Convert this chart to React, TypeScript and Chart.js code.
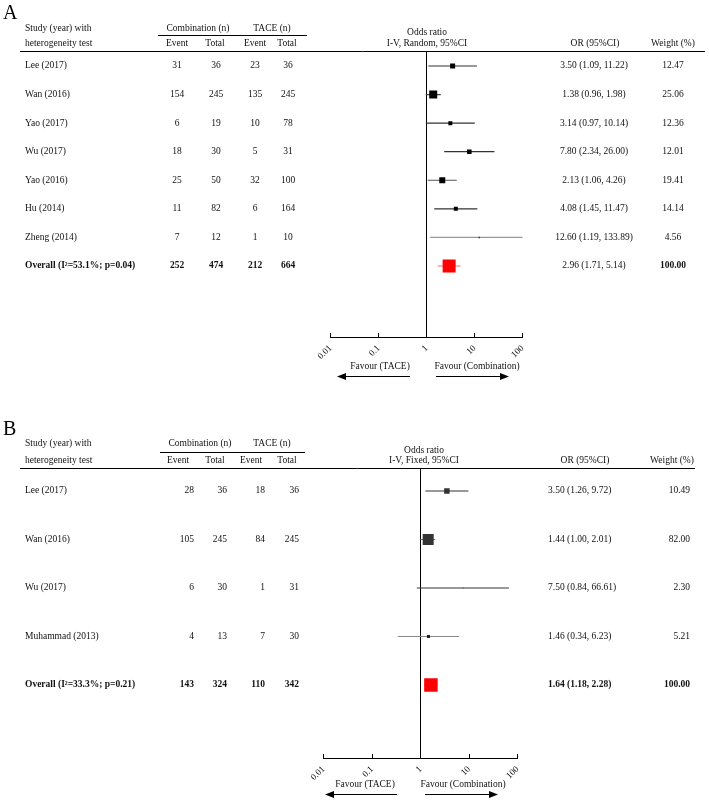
import React, { useEffect, useRef } from 'react';
import { Chart, registerables } from 'chart.js';
Chart.register(...registerables);

// ---------- Panel A data (random effects) ----------
const studiesA = ['Lee (2017)', 'Wan (2016)', 'Yao (2017)', 'Wu (2017)', 'Yao (2016)', 'Hu (2014)', 'Zheng (2014)'];
const comboEventA = [31, 154, 6, 18, 25, 11, 7];
const comboTotalA = [36, 245, 19, 30, 50, 82, 12];
const taceEventA = [23, 135, 10, 5, 32, 6, 1];
const taceTotalA = [36, 245, 78, 31, 100, 164, 10];
const orA = [3.5, 1.38, 3.14, 7.8, 2.13, 4.08, 12.6];
const loA = [1.09, 0.96, 0.97, 2.34, 1.06, 1.45, 1.19];
const hiA = [11.22, 1.98, 10.14, 26.0, 4.26, 11.47, 133.89];
const weightA = [12.47, 25.06, 12.36, 12.01, 19.41, 14.14, 4.56];
const overallLabelA = 'Overall (I\u00B2=53.1%; p=0.04)';
const overallCountsA = [252, 474, 212, 664];
const overallOrA = [2.96, 1.71, 5.14];
const overallWeightA = 100.0;

// ---------- Panel B data (fixed effects) ----------
const studiesB = ['Lee (2017)', 'Wan (2016)', 'Wu (2017)', 'Muhammad (2013)'];
const comboEventB = [28, 105, 6, 4];
const comboTotalB = [36, 245, 30, 13];
const taceEventB = [18, 84, 1, 7];
const taceTotalB = [36, 245, 31, 30];
const orB = [3.5, 1.44, 7.5, 1.46];
const loB = [1.26, 1.0, 0.84, 0.34];
const hiB = [9.72, 2.01, 66.61, 6.23];
const weightB = [10.49, 82.0, 2.3, 5.21];
const overallLabelB = 'Overall (I\u00B2=33.3%; p=0.21)';
const overallCountsB = [143, 324, 110, 342];
const overallOrB = [1.64, 1.18, 2.28];
const overallWeightB = 100.0;

// ---------- axis ----------
const tickValues = [0.01, 0.1, 1, 10, 100];
const tickLabels = ['0.01', '0.1', '1', '10', '100'];

const FONT = '"Liberation Serif", "Times New Roman", serif';
const TXT = '#111';

type Layout = {
  letter: string; letterY: number;
  h1Y: number; h2Y: number; studyX: number;
  comboHeadX: number; taceHeadX: number;
  subLine: [number, number, number];
  colHeadX: number[]; colX: number[]; colAlign: CanvasTextAlign;
  headerLine: [number, number, number];
  orHeadX: number; orHeadY1: number; method: string;
  orColHeadX: number; orColX: number; orAlign: CanvasTextAlign;
  wHeadX: number; wX: number; wAlign: CanvasTextAlign;
  overallOrBold: boolean;
  favourY: number; favourL: number; favourR: number;
  arrowY: number; arrowL: [number, number]; arrowR: [number, number];
  padding: { left: number; right: number; top: number; bottom: number };
  yMin: number; yMax: number;
  sizes: number[]; markerColors: string[]; lineColors: string[];
};

type Panel = {
  studies: string[]; ce: number[]; ct: number[]; te: number[]; tt: number[];
  or: number[]; lo: number[]; hi: number[]; w: number[];
  overallLabel: string; overallCounts: number[]; overallOr: number[]; overallW: number;
  L: Layout;
};

const panelA: Panel = {
  studies: studiesA, ce: comboEventA, ct: comboTotalA, te: taceEventA, tt: taceTotalA,
  or: orA, lo: loA, hi: hiA, w: weightA,
  overallLabel: overallLabelA, overallCounts: overallCountsA, overallOr: overallOrA, overallW: overallWeightA,
  L: {
    letter: 'A', letterY: 19,
    h1Y: 28, h2Y: 43, studyX: 25,
    comboHeadX: 198, taceHeadX: 272,
    subLine: [158, 307, 35],
    colHeadX: [177, 215, 255, 287], colX: [177, 216, 255, 288], colAlign: 'center',
    headerLine: [20, 705, 51],
    orHeadX: 427, orHeadY1: 32, method: 'I-V, Random, 95%CI',
    orColHeadX: 595, orColX: 594, orAlign: 'center',
    wHeadX: 673, wX: 673, wAlign: 'center',
    overallOrBold: false,
    favourY: 366, favourL: 380, favourR: 477,
    arrowY: 376, arrowL: [410, 337], arrowR: [436, 509],
    padding: { left: 330.5, right: 186.5, top: 51, bottom: 23 },
    yMin: -0.525, yMax: 9.486,
    sizes: [5, 8, 4, 4.5, 6, 4, 1.5, 13],
    markerColors: ['#000', '#000', '#000', '#000', '#000', '#000', '#333', '#ff0000'],
    lineColors: ['#333', '#444', '#333', '#333', '#555', '#333', '#999', '#f66'],
  },
};

const panelB: Panel = {
  studies: studiesB, ce: comboEventB, ct: comboTotalB, te: taceEventB, tt: taceTotalB,
  or: orB, lo: loB, hi: hiB, w: weightB,
  overallLabel: overallLabelB, overallCounts: overallCountsB, overallOr: overallOrB, overallW: overallWeightB,
  L: {
    letter: 'B', letterY: 35,
    h1Y: 43, h2Y: 60, studyX: 25,
    comboHeadX: 200, taceHeadX: 272,
    subLine: [160, 305, 52],
    colHeadX: [178, 215, 251, 287], colX: [194, 227, 265, 299], colAlign: 'right',
    headerLine: [20, 695, 68],
    orHeadX: 424, orHeadY1: 50, method: 'I-V, Fixed, 95%CI',
    orColHeadX: 585, orColX: 548, orAlign: 'left',
    wHeadX: 672, wX: 690, wAlign: 'right',
    overallOrBold: true,
    favourY: 384, favourL: 365, favourR: 463,
    arrowY: 394, arrowL: [397, 325], arrowR: [425, 498],
    padding: { left: 323.5, right: 191.5, top: 68, bottom: 2 },
    yMin: -0.474, yMax: 5.505,
    sizes: [5.5, 11, 1.5, 3, 13.5],
    markerColors: ['#333', '#333', '#777', '#222', '#ff0000'],
    lineColors: ['#333', '#666', '#333', '#888', '#f66'],
  },
};

function txt(ctx: CanvasRenderingContext2D, s: string, x: number, y: number, align: CanvasTextAlign, bold = false, size = 9.5) {
  ctx.font = `${bold ? 'bold ' : ''}${size}px ${FONT}`;
  ctx.textAlign = align;
  ctx.textBaseline = 'middle';
  ctx.fillStyle = TXT;
  ctx.fillText(s, x, y);
}

function hline(ctx: CanvasRenderingContext2D, x1: number, x2: number, y: number, w = 1) {
  ctx.beginPath();
  ctx.moveTo(x1, y + 0.5);
  ctx.lineTo(x2, y + 0.5);
  ctx.lineWidth = w;
  ctx.strokeStyle = '#000';
  ctx.stroke();
}

function arrow(ctx: CanvasRenderingContext2D, from: number, to: number, y: number) {
  const dir = Math.sign(to - from);
  const head = 9;
  ctx.beginPath();
  ctx.moveTo(from, y + 0.5);
  ctx.lineTo(to - dir * head, y + 0.5);
  ctx.strokeStyle = '#000';
  ctx.lineWidth = 1;
  ctx.stroke();
  ctx.beginPath();
  ctx.moveTo(to, y + 0.5);
  ctx.lineTo(to - dir * head, y + 0.5 - 3.5);
  ctx.lineTo(to - dir * head, y + 0.5 + 3.5);
  ctx.closePath();
  ctx.fillStyle = '#000';
  ctx.fill();
}

const fmt = (v: number) => v.toFixed(2);

function makeTextPlugin(P: Panel) {
  return {
    id: 'forestText',
    afterDraw(chart: any) {
      const ctx: CanvasRenderingContext2D = chart.ctx;
      const L = P.L;
      const ys = chart.scales.y;
      ctx.save();
      // panel letter
      ctx.font = `20px ${FONT}`;
      ctx.textAlign = 'left';
      ctx.textBaseline = 'alphabetic';
      ctx.fillStyle = '#000';
      ctx.fillText(L.letter, 3, L.letterY);
      // headers
      txt(ctx, 'Study (year) with', L.studyX, L.h1Y, 'left');
      txt(ctx, 'heterogeneity test', L.studyX, L.h2Y, 'left');
      txt(ctx, 'Combination (n)', L.comboHeadX, L.h1Y, 'center');
      txt(ctx, 'TACE (n)', L.taceHeadX, L.h1Y, 'center');
      ['Event', 'Total', 'Event', 'Total'].forEach((s, i) => txt(ctx, s, L.colHeadX[i], L.h2Y, 'center'));
      hline(ctx, L.subLine[0], L.subLine[1], L.subLine[2]);
      hline(ctx, L.headerLine[0], L.headerLine[1], L.headerLine[2]);
      txt(ctx, 'Odds ratio', L.orHeadX, L.orHeadY1, 'center');
      txt(ctx, L.method, L.orHeadX, L.h2Y, 'center');
      txt(ctx, 'OR (95%CI)', L.orColHeadX, L.h2Y, 'center');
      txt(ctx, 'Weight (%)', L.wHeadX, L.h2Y, 'center');
      // study rows
      P.studies.forEach((s, i) => {
        const y = ys.getPixelForValue(i);
        txt(ctx, s, L.studyX, y, 'left');
        [P.ce[i], P.ct[i], P.te[i], P.tt[i]].forEach((v, j) => txt(ctx, String(v), L.colX[j], y, L.colAlign));
        txt(ctx, `${fmt(P.or[i])} (${fmt(P.lo[i])}, ${fmt(P.hi[i])})`, L.orColX, y, L.orAlign);
        txt(ctx, fmt(P.w[i]), L.wX, y, L.wAlign);
      });
      // overall row
      const n = P.studies.length;
      const yo = ys.getPixelForValue(n);
      txt(ctx, P.overallLabel, L.studyX, yo, 'left', true);
      P.overallCounts.forEach((v, j) => txt(ctx, String(v), L.colX[j], yo, L.colAlign, true));
      txt(ctx, `${fmt(P.overallOr[0])} (${fmt(P.overallOr[1])}, ${fmt(P.overallOr[2])})`, L.orColX, yo, L.orAlign, L.overallOrBold);
      txt(ctx, fmt(P.overallW), L.wX, yo, L.wAlign, true);
      // favour labels & arrows
      txt(ctx, 'Favour (TACE)', L.favourL, L.favourY, 'center');
      txt(ctx, 'Favour (Combination)', L.favourR, L.favourY, 'center');
      arrow(ctx, L.arrowL[0], L.arrowL[1], L.arrowY);
      arrow(ctx, L.arrowR[0], L.arrowR[1], L.arrowY);
      ctx.restore();
    },
  };
}

function buildConfig(P: Panel): any {
  const L = P.L;
  const ors = [...P.or, P.overallOr[0]];
  const los = [...P.lo, P.overallOr[1]];
  const his = [...P.hi, P.overallOr[2]];
  const markers = {
    data: ors.map((v, i) => ({ x: v, y: i })),
    pointStyle: 'rect',
    pointRadius: L.sizes.map((s) => s / Math.SQRT2),
    pointBackgroundColor: L.markerColors,
    pointBorderColor: L.markerColors,
    pointBorderWidth: 0,
    showLine: false,
  };
  const ciLines = ors.map((_, i) => ({
    data: [{ x: los[i], y: i }, { x: his[i], y: i }],
    showLine: true,
    borderColor: L.lineColors[i],
    borderWidth: 1.2,
    pointRadius: 0,
  }));
  const refLine = {
    data: [{ x: 1, y: L.yMin }, { x: 1, y: L.yMax }],
    showLine: true,
    borderColor: '#000',
    borderWidth: 1,
    pointRadius: 0,
  };
  return {
    type: 'scatter',
    data: { datasets: [markers, ...ciLines, refLine] },
    options: {
      responsive: false,
      animation: false,
      events: [],
      devicePixelRatio: 1,
      layout: { padding: L.padding },
      plugins: { legend: { display: false }, tooltip: { enabled: false } },
      scales: {
        x: {
          type: 'logarithmic',
          min: 0.01,
          max: 100,
          afterBuildTicks: (axis: any) => {
            axis.ticks = tickValues.map((v) => ({ value: v }));
          },
          afterFit: (axis: any) => {
            axis.height = 40;
          },
          ticks: {
            callback: (_v: any, i: number) => tickLabels[i],
            minRotation: 45,
            maxRotation: 45,
            autoSkip: false,
            padding: 10,
            color: TXT,
            font: { family: FONT, size: 9 },
          },
          grid: { display: true, drawOnChartArea: false, drawTicks: true, tickLength: -4, color: '#000', lineWidth: 1 },
          border: { display: true, color: '#000', width: 1 },
        },
        y: {
          type: 'linear',
          display: false,
          reverse: true,
          min: L.yMin,
          max: L.yMax,
        },
      },
    },
    plugins: [makeTextPlugin(P)],
  };
}

function ForestPanel({ P }: { P: Panel }) {
  const ref = useRef<HTMLCanvasElement | null>(null);
  useEffect(() => {
    if (!ref.current) return;
    const chart = new Chart(ref.current, buildConfig(P));
    return () => chart.destroy();
  }, [P]);
  return <canvas ref={ref} width={709} height={400} style={{ display: 'block', width: 709, height: 400 }} />;
}

export default function App() {
  useEffect(() => {
    document.body.style.margin = '0';
    document.body.style.background = '#fff';
  }, []);
  return (
    <div style={{ width: 709, height: 800, background: '#fff' }}>
      <ForestPanel P={panelA} />
      <ForestPanel P={panelB} />
    </div>
  );
}
